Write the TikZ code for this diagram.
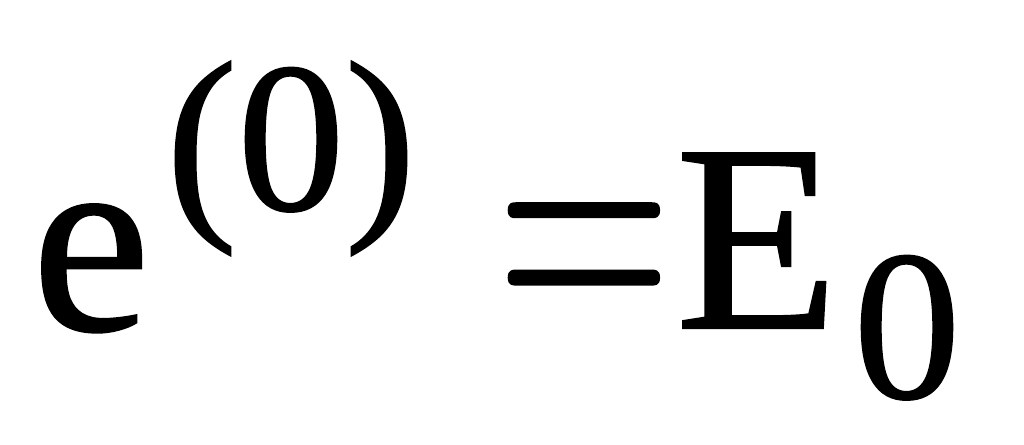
\documentclass[tikz,border=0pt]{standalone}
\usepackage{fontspec}
\setmainfont{Liberation Serif}[FakeBold=0.8]
\newfontfamily\eqfont{lmroman10-regular.otf}[FakeBold=0.6]
\usepackage{tikz}
\tikzset{
	big/.style={inner sep=0pt, font=\fontsize{76}{80}\selectfont},
	small/.style={inner sep=0pt, font=\fontsize{61}{64}\selectfont}
}

\begin{document}
\begin{tikzpicture}
		%%%%% START %%%%%
		
		\useasboundingbox (0, 0) rectangle (10.24, 4.44);
		
		\node[big, anchor=base] (e) at (0.91, 1.14) {e};
		\node[small, anchor=base] (sup) at (2.91, 2.34) {(0)};
		
		\node[big, anchor=center, transform shape, xscale=0.85, yscale=1.3] (eq) at (5.84, 1.77) {\eqfont =};
		
		\node[big, anchor=base] (E) at (7.57, 1.16) {E};
		\node[small, anchor=base] (sub) at (9.07, 0.46) {0};
		
		%%%%% END %%%%%
	\end{tikzpicture}
\end{document}
